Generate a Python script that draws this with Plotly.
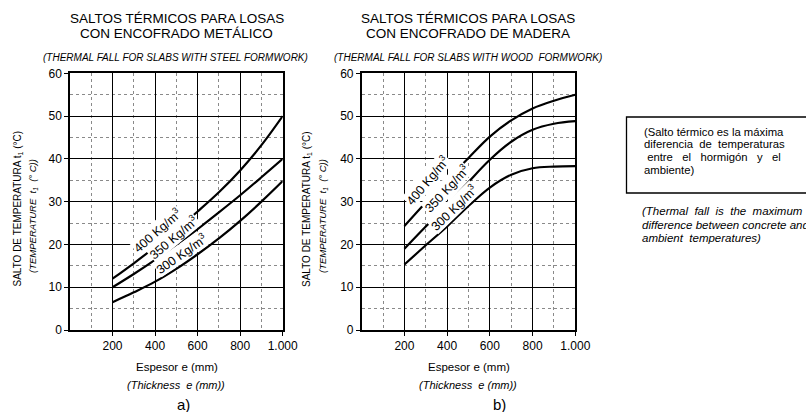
import plotly.graph_objects as go

W, H = 806, 412

# ---------------- data ----------------
thickness = [200, 300, 400, 500, 600, 700, 800, 900, 1000]

steel_400 = [12.0, 15.6, 19.4, 23.4, 27.7, 32.2, 37.3, 43.2, 50.0]
steel_350 = [10.0, 13.1, 16.4, 19.9, 23.6, 27.5, 31.5, 35.7, 40.0]
steel_300 = [6.5, 8.8, 11.3, 14.3, 17.7, 21.4, 25.5, 30.0, 34.8]

wood_400 = [24.3, 29.8, 35.0, 40.2, 45.2, 49.0, 51.8, 53.6, 55.0]
wood_350 = [19.0, 24.2, 29.2, 34.6, 39.8, 44.0, 46.8, 48.2, 48.8]
wood_300 = [15.3, 19.8, 24.2, 29.0, 33.3, 36.3, 37.8, 38.2, 38.3]

density_labels = ["400 Kg/m<sup>3</sup>", "350 Kg/m<sup>3</sup>", "300 Kg/m<sup>3</sup>"]
# label anchor points (thickness, temperature) along curves
steel_label_x = [410, 486, 525]
steel_label_y = [23.3, 21.7, 17.9]
wood_label_x = [307, 398, 432]
wood_label_y = [35.0, 33.2, 28.8]

x_tickvals = [200, 400, 600, 800, 1000]
x_ticktext = ["200", "400", "600", "800", "1.000"]
y_tickvals = [0, 10, 20, 30, 40, 50, 60]

FONT = "Liberation Sans, Arial, sans-serif"
NARROW = "Liberation Sans Narrow, Liberation Sans, Arial, sans-serif"


def px_x(p):
    return p / W


def px_y(p):
    return 1 - p / H


fig = go.Figure()

for xa, ya, series in [("x", "y", [steel_400, steel_350, steel_300]),
                       ("x2", "y2", [wood_400, wood_350, wood_300])]:
    for s in series:
        fig.add_trace(go.Scatter(x=thickness, y=s, mode="lines", xaxis=xa, yaxis=ya,
                                 line=dict(color="black", width=2.2, shape="spline", smoothing=1.0),
                                 showlegend=False, hoverinfo="skip"))

axis_common = dict(showline=True, linecolor="black", linewidth=1.5,
                   showgrid=True, gridcolor="black", gridwidth=1.3,
                   ticks="outside", ticklen=4, tickcolor="black", tickwidth=1,
                   tickfont=dict(family=FONT, size=12, color="black"),
                   zeroline=False, fixedrange=True, automargin=False)

xdomains = [(70 / W, 282.7 / W), (361.7 / W, 575.3 / W)]
ydomain = [px_y(330), px_y(73.3)]

for i, (xk, yk) in enumerate([("xaxis", "yaxis"), ("xaxis2", "yaxis2")]):
    xname = "x" if i == 0 else "x2"
    yname = "y" if i == 0 else "y2"
    fig.layout[xk] = dict(axis_common, domain=list(xdomains[i]), range=[0, 1000],
                          anchor=yname, mirror=True,
                          tickmode="array", tickvals=x_tickvals, ticktext=x_ticktext,
                          minor=dict(tickmode="linear", tick0=0, dtick=100, showgrid=True,
                                     gridcolor="#8a8a8a", griddash="dot", gridwidth=1))
    fig.layout[yk] = dict(axis_common, domain=ydomain, range=[0, 60], anchor=xname,
                          mirror=True,
                          tickmode="array", tickvals=y_tickvals,
                          minor=dict(tickmode="linear", tick0=0, dtick=5, showgrid=True,
                                     gridcolor="#8a8a8a", griddash="dot", gridwidth=1))

annotations = []


def ann(xp, yp, text, size, family=FONT, angle=0, xanchor="center"):
    annotations.append(dict(x=px_x(xp), y=px_y(yp), xref="paper", yref="paper", text=text,
                            showarrow=False, xanchor=xanchor, yanchor="middle", textangle=angle,
                            font=dict(family=family, size=size, color="black")))


# curve labels
for xs, ys, angles, xr, yr in [(steel_label_x, steel_label_y, [-41, -40, -35], "x", "y"),
                              (wood_label_x, wood_label_y, [-50, -47, -44], "x2", "y2")]:
    for lab, lx, ly, ang in zip(density_labels, xs, ys, angles):
        annotations.append(dict(x=lx, y=ly, xref=xr, yref=yr, text=lab, showarrow=False,
                                xanchor="center", yanchor="middle",
                                textangle=ang, font=dict(family=FONT, size=12.5, color="black"),
                                bgcolor="white", borderpad=0))

# titles
for cx, l1, l2, sub in [(176.5, "SALTOS TÉRMICOS PARA LOSAS", "CON ENCOFRADO METÁLICO",
                         "(THERMAL FALL FOR SLABS WITH STEEL FORMWORK)"),
                        (468.5, "SALTOS TÉRMICOS PARA LOSAS", "CON ENCOFRADO DE MADERA",
                         "(THERMAL FALL FOR SLABS WITH WOOD  FORMWORK)")]:
    ann(cx, 18.5, l1, 13.5)
    ann(cx, 33.5, l2, 13.5)
    ann(cx - 1, 57, "<i>" + sub + "</i>", 10, NARROW)

# y axis titles
for x1, x2 in [(17.5, 33), (307, 323)]:
    ann(x1, 209, "SALTO DE TEMPERATURA t<sub>1</sub> (°C)", 10, angle=-90)
    ann(x2, 216, "<i>(TEMPERATURE  t<sub>1</sub>  (° C))</i>", 9.5, NARROW, angle=-90)

# x axis titles and panel letters
for cx, lx, letter in [(177, 183, "a)"), (469, 499, "b)")]:
    ann(cx, 366.5, "Espesor e (mm)", 11.5)
    ann(cx - 1, 385, "<i>(Thickness  e (mm))</i>", 11, NARROW)
    ann(lx, 404, letter, 15)

# note box
note_lines = ["(Salto térmico es la máxima",
              "diferencia\u00a0\u00a0de\u00a0\u00a0temperaturas",
              "\u00a0entre\u00a0\u00a0\u00a0el\u00a0\u00a0\u00a0hormigón\u00a0\u00a0\u00a0y\u00a0\u00a0\u00a0el",
              "ambiente)"]
for i, t in enumerate(note_lines):
    ann(642, 131.5 + i * 12.9, t, 11.3, xanchor="left")

note_en = ["(Thermal\u00a0\u00a0fall\u00a0\u00a0is\u00a0\u00a0the\u00a0\u00a0maximum",
           "difference between concrete and",
           "ambient\u00a0\u00a0temperatures)"]
for i, t in enumerate(note_en):
    ann(640, 211 + i * 13.5, "<i>" + t + "</i>", 11.5, NARROW, xanchor="left")

shapes = [dict(type="rect", xref="paper", yref="paper",
               x0=px_x(626.5), x1=px_x(820), y0=px_y(193), y1=px_y(117),
               line=dict(color="black", width=1.3), fillcolor="rgba(0,0,0,0)")]

fig.update_layout(template="none", width=W, height=H, margin=dict(l=0, r=0, t=0, b=0, pad=0),
                  paper_bgcolor="white", plot_bgcolor="white",
                  annotations=annotations, shapes=shapes, showlegend=False)

fig.write_html("out.html", config={"displayModeBar": False},
               post_script="document.body.style.margin='0px';document.body.style.overflow='hidden';")
